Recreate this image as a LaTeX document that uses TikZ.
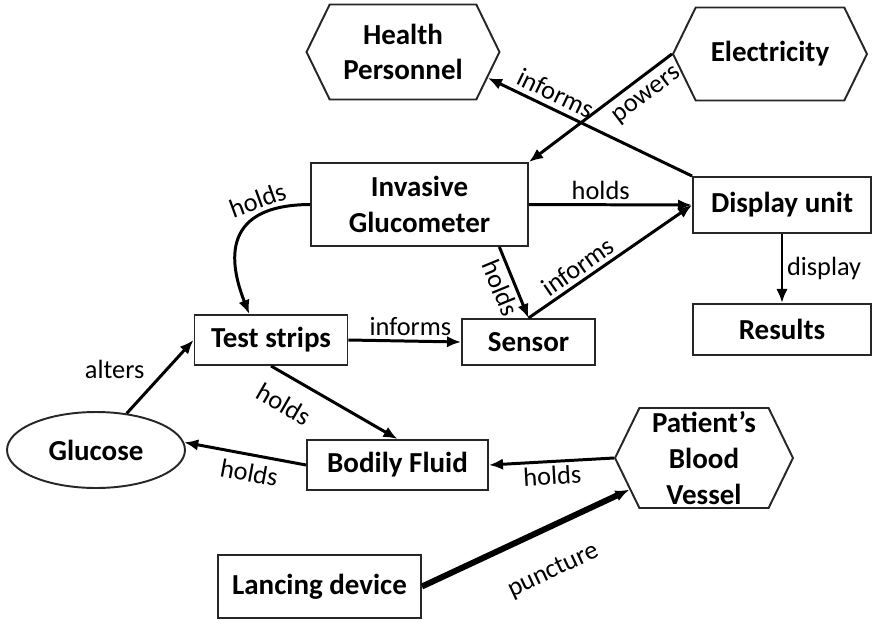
\documentclass[tikz,border=0pt]{standalone}
\usepackage{fontspec}
\setmainfont{Carlito}
\usetikzlibrary{arrows.meta,shapes.geometric,shapes.symbols}

\tikzset{
  box/.style={draw=black!85, line width=1.1pt, fill=white, align=center, inner sep=2pt,
    font=\bfseries\fontsize{16.5}{20.4}\selectfont},
  hexa/.style={box, signal, signal to=east and west, signal pointer angle=128},
  oval/.style={box, ellipse},
  conn/.style={line width=1.7pt, -{Latex[length=8pt,width=6.5pt]}},
  lbl/.style={font=\fontsize{15}{18}\selectfont, inner sep=2pt},
}

\begin{document}
\begin{tikzpicture}[x=0.02cm, y=-0.02cm]
\useasboundingbox (0,0) rectangle (873,623);
% entities
\node [hexa, minimum width=3.86cm, minimum height=1.9cm] (hp) at (403,52) {Health\\Personnel};
\node [hexa, minimum width=3.88cm, minimum height=1.86cm] (el) at (770,54) {Electricity};
\node [box, minimum width=4.34cm, minimum height=1.66cm] (ig) at (419.5,204.5) {Invasive\\Glucometer};
\node [box, minimum width=3.56cm, minimum height=1.12cm] (du) at (782,205) {Display unit};
\node [box, minimum width=3.56cm, minimum height=1.02cm] (res) at (782,329.5) {Results};
\node [box, minimum width=3.06cm, minimum height=1.0cm] (ts) at (271,340) {Test strips};
\node [box, minimum width=2.66cm, minimum height=0.92cm] (sen) at (528.5,342) {Sensor};
\node [oval, minimum width=3.56cm, minimum height=1.52cm] (glu) at (96,450) {Glucose};
\node [box, minimum width=3.62cm, minimum height=1.0cm] (bf) at (397.5,465) {Bodily Fluid};
\node [hexa, minimum width=3.56cm, minimum height=1.98cm] (pbv) at (704,458) {Patient’s\\Blood\\Vessel};
\node [box, minimum width=4.06cm, minimum height=1.26cm] (ld) at (319.5,586.5) {Lancing device};
% relations
\draw [conn] (el.west) -- node[lbl, sloped, below=3pt, pos=0.25] {powers} (ig.north east);
\draw [conn] (du.north west) -- node[lbl, sloped, above=1pt, pos=0.7] {informs} (hp.-17);
\draw [conn] (ig.east) -- node[lbl, above, pos=0.44] {holds} (du.west);
\draw [conn] (sen.north) -- node[lbl, sloped, above, pos=0.35] {informs} (du.west);
\draw [conn] (ig.-28) -- node[lbl, sloped, below, pos=0.5] {holds} (sen.north);
\draw [conn] (du.south) -- node[lbl, right] {display} (res.north);
\draw [conn] (ig.west) .. controls (215,205) and (232,270) .. node[lbl, pos=0.22, above, rotate=20] {holds} (ts.130);
\draw [conn] (ts.east) -- node[lbl, above, pos=0.55] {informs} (sen.west);
\draw [conn] (ts.south) -- node[lbl, sloped, below=7pt, pos=0.21] {holds} (bf.north);
\draw [conn] (bf.west) -- node[lbl, sloped, below=2pt, pos=0.44] {holds} (glu.5);
\draw [conn] (pbv.west) -- node[lbl, sloped, below, pos=0.5] {holds} (bf.east);
\draw [conn] (glu.50) -- node[lbl, left=0.35cm, pos=0.6] {alters} (ts.west);
\draw [conn, line width=3.4pt] (ld.east) -- node[lbl, sloped, below=14pt, pos=0.55] {puncture} (pbv.203);
\end{tikzpicture}
\end{document}
